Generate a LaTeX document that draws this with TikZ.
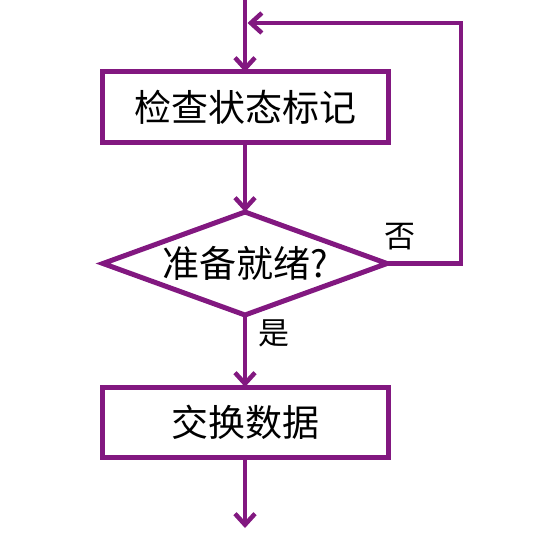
\documentclass[tikz,border=0pt]{standalone}
\usepackage{fontspec}
\newfontfamily\cjk{Noto Sans CJK SC}
\usetikzlibrary{arrows.meta, positioning, shapes.geometric}
\definecolor{flowpurple}{RGB}{130,24,128}
\tikzset{
    flowbox/.style={draw=flowpurple, line width=5pt, minimum width=286pt, minimum height=70pt, inner sep=0pt, outer sep=0pt, font=\cjk\fontsize{37}{40}\selectfont},
    flowdec/.style={diamond, aspect=2.8, draw=flowpurple, line width=5pt, minimum width=284pt, minimum height=103pt, inner sep=0pt, outer sep=0pt, font=\cjk\fontsize{37}{40}\selectfont},
    flowarrow/.style={-{Straight Barb[length=11pt, width=20pt]}, draw=flowpurple, line width=4.5pt},
    flowlabel/.style={font=\cjk\fontsize{31}{34}\selectfont}
}

\begin{document}
\begin{tikzpicture}[x=1pt, y=-1pt]
  \useasboundingbox (0,0) rectangle (548,532);
  \node[flowbox] (check) at (245,107) {检查状态标记};
  \node[flowdec, below=70pt of check] (ready) {准备就绪?};
  \node[flowbox, below=72pt of ready] (swap) {交换数据};
  \coordinate (entry) at (245,0);
  \coordinate (merge) at (247.5,23);
  \coordinate (exit) at (245,528);
  % main flow
  \draw[flowarrow] (entry) -- (check);
  \draw[flowarrow] (check) -- (ready);
  \draw[flowarrow] (ready) -- node[flowlabel, right=8pt, pos=0.25] {是} (swap);
  \draw[flowarrow] (swap) -- (exit);
  % not ready: loop back
  \draw[flowarrow] (ready.east) -- ++(74pt,0) |- (merge);
  \node[flowlabel] (no) at (400,237) {否};
\end{tikzpicture}
\end{document}
